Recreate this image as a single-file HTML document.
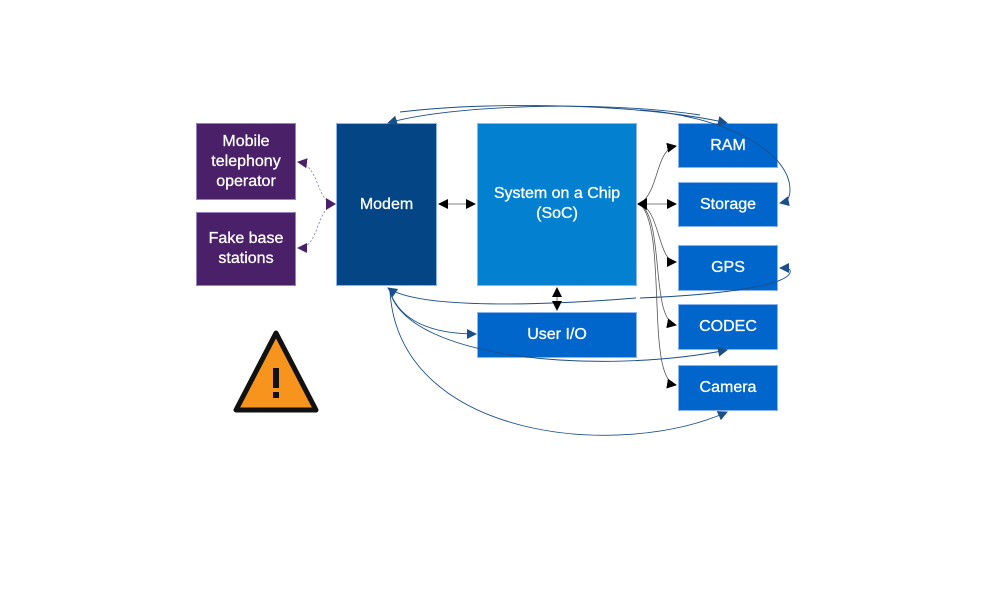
<!DOCTYPE html>
<html><head><style>
body{margin:0;width:1000px;height:600px;background:#fff;position:relative;font-family:"Liberation Sans",sans-serif;overflow:hidden}
.b{position:absolute;color:#fff;display:flex;align-items:center;justify-content:center;text-align:center;font-size:16px;line-height:20px;box-sizing:border-box;border:1px solid #8ab4f0;-webkit-text-stroke:0.3px #fff}
.p{background:#4a2068;border-color:#9a80c0}
.r{background:#0066cc}
</style></head><body>
<div class="b p" style="left:196px;top:123px;width:100px;height:77px">Mobile<br>telephony<br>operator</div>
<div class="b p" style="left:196px;top:212px;width:100px;height:74px">Fake base<br>stations</div>
<div class="b" style="left:336px;top:123px;width:101px;height:163px;background:#034585">Modem</div>
<div class="b" style="left:477px;top:123px;width:160px;height:163px;background:#0380d0;align-items:flex-start;padding-top:60px">System on a Chip<br>(SoC)</div>
<div class="b r" style="left:477px;top:312px;width:160px;height:46px">User I/O</div>
<div class="b r" style="left:678px;top:123px;width:100px;height:45px">RAM</div>
<div class="b r" style="left:678px;top:182px;width:100px;height:45px">Storage</div>
<div class="b r" style="left:678px;top:245px;width:100px;height:46px">GPS</div>
<div class="b r" style="left:678px;top:304px;width:100px;height:46px">CODEC</div>
<div class="b r" style="left:678px;top:365px;width:100px;height:46px">Camera</div>
<svg width="1000" height="600" style="position:absolute;left:0;top:0">
<defs>
<marker id="a" markerWidth="10" markerHeight="10" refX="9" refY="5" orient="auto-start-reverse" markerUnits="userSpaceOnUse"><path d="M0,0L10,5L0,10z" fill="#1a4f8a"/></marker>
<marker id="k" markerWidth="10" markerHeight="10" refX="9" refY="5" orient="auto-start-reverse" markerUnits="userSpaceOnUse"><path d="M0,0L10,5L0,10z" fill="#000"/></marker>
<marker id="v" markerWidth="10" markerHeight="10" refX="9" refY="5" orient="auto-start-reverse" markerUnits="userSpaceOnUse"><path d="M0,0L10,5L0,10z" fill="#4a2068"/></marker>
</defs>
<g fill="none" stroke="#1a4f8a" stroke-width="0.9">
<path d="M700,115 C600,100 450,105 388,123" marker-end="url(#a)"/>
<path d="M400,112 C500,100 650,105 727,123" marker-end="url(#a)"/>
<path d="M640,110 C720,115 790,150 790,190 C790,200 785,202 780,203" marker-end="url(#a)"/>
<path d="M640,298 C720,295 795,285 790,270 C788,268 785,268 780,268" marker-end="url(#a)"/>
<path d="M636,298 C550,305 420,310 388,288" marker-end="url(#a)"/>
<path d="M390,292 C400,320 430,334 476,334" marker-end="url(#a)"/>
<path d="M390,292 C410,360 600,375 727,350" marker-end="url(#a)"/>
<path d="M390,292 C400,440 620,460 727,412" marker-end="url(#a)"/>
</g>
<g fill="none" stroke="#555" stroke-width="0.8">
<path d="M439,204 H475" marker-end="url(#k)" marker-start="url(#k)"/>
<path d="M557,288 V310" marker-end="url(#k)" marker-start="url(#k)"/>
<path d="M640,204 C660,190 655,150 676,146" marker-end="url(#k)"/>
<path d="M640,204 H676" marker-end="url(#k)"/>
<path d="M640,204 C660,210 658,262 676,262" marker-end="url(#k)"/>
<path d="M640,204 C665,220 650,320 676,325" marker-end="url(#k)"/>
<path d="M640,204 C668,230 645,380 676,385" marker-end="url(#k)"/>
</g>
<path d="M637,204 l10,-6 v12z" fill="#000"/>
<g fill="none" stroke="#8a70b0" stroke-width="0.8" stroke-dasharray="2,2">
<path d="M334,204 C315,200 320,165 298,162" marker-end="url(#v)"/>
<path d="M334,204 C315,210 320,248 298,248" marker-end="url(#v)"/>
</g>
<path d="M336,204 l-10,-6 v12z" fill="#4a2068"/>
<path d="M276,333 L316,410 L236,410 Z" fill="#f7941d" stroke="#111" stroke-width="5" stroke-linejoin="round"/>
<rect x="273" y="368" width="6" height="20" fill="#111"/>
<rect x="273" y="392" width="6" height="6" fill="#111"/>
</svg>
</body></html>
